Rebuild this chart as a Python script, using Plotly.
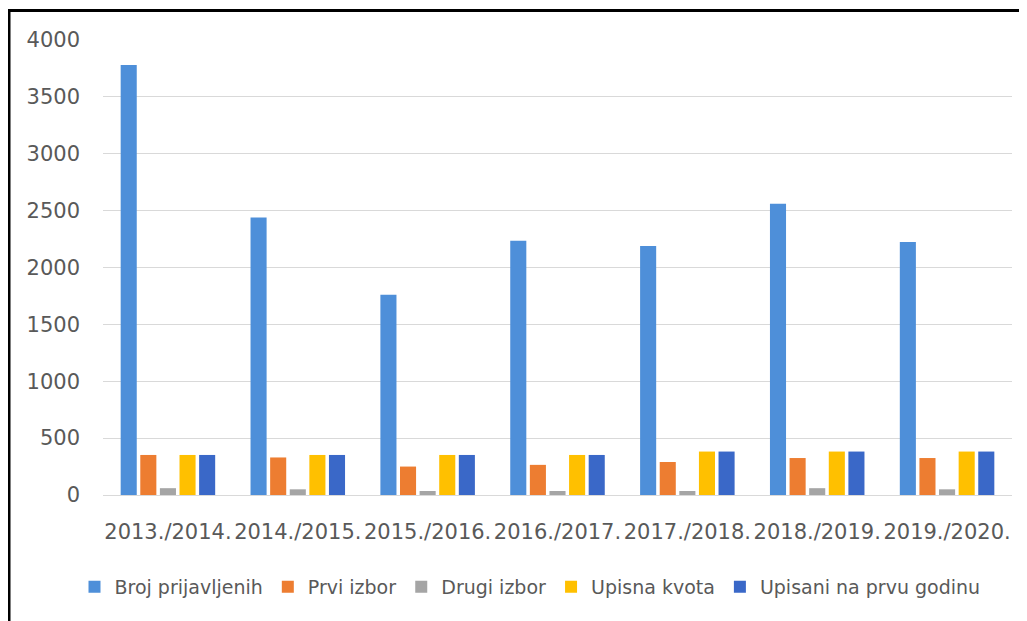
import plotly.graph_objects as go

categories = ["2013./2014.", "2014./2015.", "2015./2016.", "2016./2017.",
              "2017./2018.", "2018./2019.", "2019./2020."]
broj_prijavljenih = [3780, 2440, 1760, 2235, 2190, 2560, 2225]
prvi_izbor = [352, 330, 250, 265, 290, 325, 325]
drugi_izbor = [60, 50, 35, 35, 35, 60, 50]
upisna_kvota = [352, 352, 352, 352, 382, 382, 382]
upisani = [352, 352, 352, 352, 382, 382, 382]

series_names = ["Broj prijavljenih", "Prvi izbor", "Drugi izbor", "Upisna kvota", "Upisani na prvu godinu"]
series_values = [broj_prijavljenih, prvi_izbor, drugi_izbor, upisna_kvota, upisani]
colors = ["#4E8FD9", "#ED7D31", "#A5A5A5", "#FFC000", "#3A68C8"]
y_ticks = [0, 500, 1000, 1500, 2000, 2500, 3000, 3500, 4000]

FONT = "DejaVu Sans"
GREY = "#595959"

fig = go.Figure()
for name, vals, col in zip(series_names, series_values, colors):
    fig.add_trace(go.Bar(x=categories, y=vals, name=name, marker_color=col,
                         marker_line_width=0))

# page has an 8px body margin, so the figure is placed at (8, 8)
OFF = 8
W, H = 1027 - OFF, 621 - OFF
L, R, T, B = 103 - OFF, 15, 40 - OFF, 126
pw, ph = W - L - R, H - T - B

def px_to_paper_x(px):
    return (px - OFF - L) / pw

def px_to_paper_y(py):
    return (H - B - (py - OFF)) / ph

fig.update_layout(
    width=W, height=H,
    margin=dict(l=L, r=R, t=T, b=B),
    paper_bgcolor="white", plot_bgcolor="white",
    barmode="group", bargap=0.245, bargroupgap=0.18,
    font=dict(family=FONT, color=GREY, size=21),
    xaxis=dict(showgrid=False, showline=True, linecolor="#D9D9D9", linewidth=1,
               ticks="", tickfont=dict(size=21, color=GREY, family=FONT),
               ticklabelstandoff=18),
    yaxis=dict(range=[0, 4000], tickvals=y_ticks, showgrid=True, gridcolor="#D9D9D9",
               gridwidth=1, zeroline=False, showline=False, ticks="",
               tickfont=dict(size=21, color=GREY, family=FONT),
               ticklabelstandoff=22),
    legend=dict(orientation="h", x=px_to_paper_x(530), xanchor="center",
                y=px_to_paper_y(587), yanchor="middle",
                font=dict(size=19, color=GREY, family=FONT),
                itemwidth=30, traceorder="normal"),
    showlegend=True,
    shapes=[
        dict(type="line", xref="paper", yref="paper",
             x0=px_to_paper_x(9), x1=px_to_paper_x(1040),
             y0=px_to_paper_y(10.5), y1=px_to_paper_y(10.5),
             line=dict(color="black", width=3), layer="above"),
        dict(type="line", xref="paper", yref="paper",
             x0=px_to_paper_x(9), x1=px_to_paper_x(9),
             y0=px_to_paper_y(9), y1=px_to_paper_y(640),
             line=dict(color="black", width=3), layer="above"),
    ],
)

fig.write_html("out.html")
